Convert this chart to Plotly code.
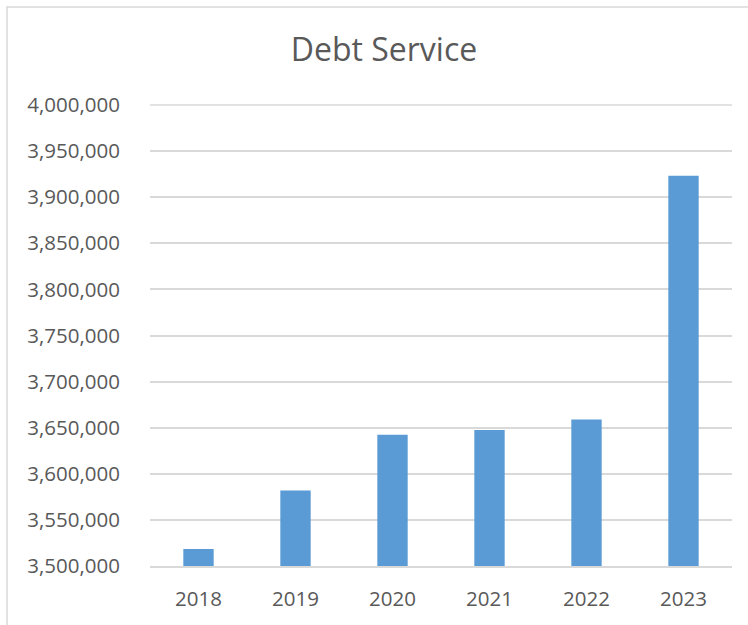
import plotly.graph_objects as go

years = ["2018", "2019", "2020", "2021", "2022", "2023"]
debt_service = [3518500, 3582000, 3642400, 3647500, 3659000, 3923300]
y_ticks = [3500000, 3550000, 3600000, 3650000, 3700000, 3750000, 3800000, 3850000, 3900000, 3950000, 4000000]

W, H = 748, 625
L, R, T, B = 150, 16, 105, 59
pw, ph = W - L - R, H - T - B

def px_to_paper_x(px):
    return (px - L) / pw

def px_to_paper_y(py):
    return (H - B - py) / ph

fig = go.Figure(go.Bar(
    x=years, y=debt_service,
    marker=dict(color="#5b9bd5", line=dict(width=0)),
    hoverinfo="x+y",
))

fig.update_layout(
    width=W, height=H,
    margin=dict(l=L, r=R, t=T, b=B),
    paper_bgcolor="white", plot_bgcolor="white",
    bargap=0.687,
    showlegend=False,
    font=dict(family="Open Sans", color="#595959", size=20.5),
    title=dict(text="Debt Service", x=384 / W, xanchor="center",
               y=1 - 50 / H, yanchor="middle",
               font=dict(family="Open Sans", size=32, color="#595959")),
    shapes=[
        dict(type="rect", xref="paper", yref="paper",
             x0=px_to_paper_x(7), x1=px_to_paper_x(770),
             y0=px_to_paper_y(640), y1=px_to_paper_y(7),
             line=dict(color="#d9d9d9", width=1.5), fillcolor="rgba(0,0,0,0)",
             layer="below"),
        dict(type="line", xref="paper", yref="paper",
             x0=0, x1=1, y0=1, y1=1,
             line=dict(color="#d9d9d9", width=1.5), layer="below"),
    ],
)

fig.update_yaxes(
    range=[3500000, 4000000],
    tickvals=y_ticks,
    tickformat=",d",
    showgrid=True, gridcolor="#d9d9d9", gridwidth=1.5,
    zeroline=False, showline=False,
    ticks="", ticklabelstandoff=29,
    tickfont=dict(size=20.5, color="#595959"),
)
fig.update_xaxes(
    showline=True, linecolor="#d9d9d9", linewidth=1.5,
    showgrid=False, ticks="", ticklabelstandoff=14,
    tickfont=dict(size=20.5, color="#595959"),
)

fig.write_html("out.html")
